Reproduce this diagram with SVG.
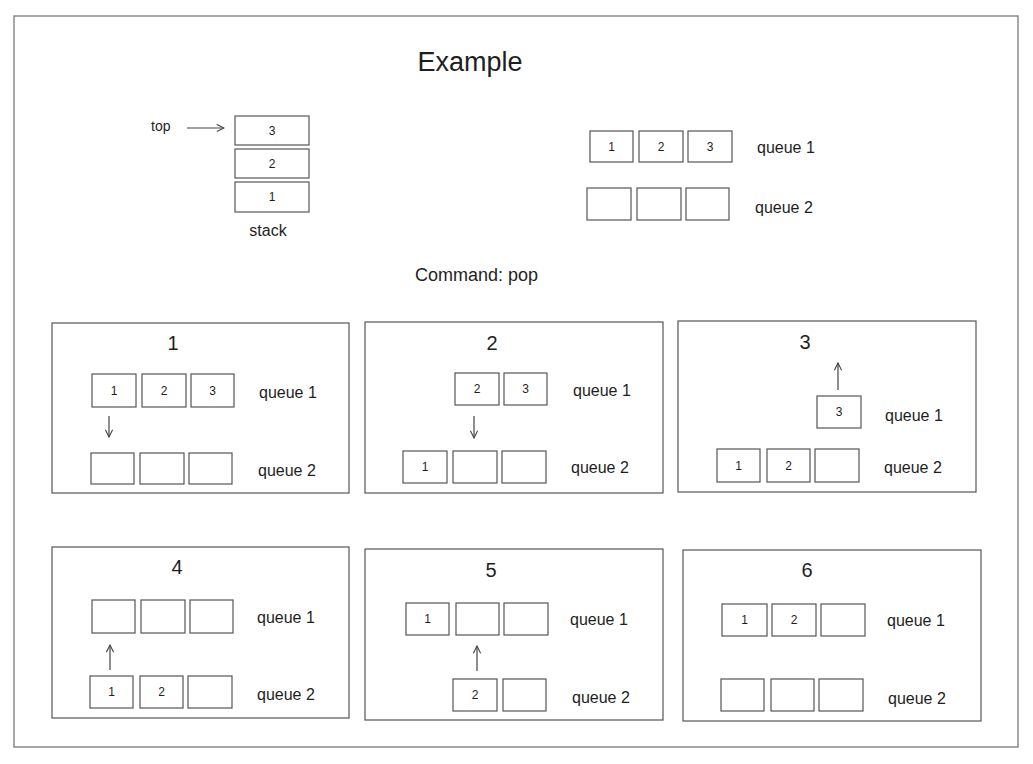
<svg xmlns="http://www.w3.org/2000/svg" width="1033" height="764" viewBox="0 0 1033 764">
<defs>
<style>
.frame{fill:#fff;stroke:#8a8a8a;stroke-width:1.5}
.panel{fill:#fff;stroke:#555;stroke-width:1.2}
.box{fill:#fff;stroke:#555;stroke-width:1.2}
.t{font-family:"Liberation Sans","DejaVu Sans",sans-serif;fill:#1e1e1e}
.num{font-size:12px;text-anchor:middle;dominant-baseline:central}
.lbl{font-size:16px;dominant-baseline:central}
.title{font-size:20px;text-anchor:middle;dominant-baseline:central}
.arr{stroke:#444;stroke-width:1.2;fill:none}
</style>
<marker id="ah" viewBox="0 0 10 10" refX="9" refY="5" markerWidth="9" markerHeight="9" orient="auto" markerUnits="userSpaceOnUse">
<path d="M1,1 L9,5 L1,9" fill="none" stroke="#444" stroke-width="1.2"/>
</marker>
</defs>
<rect width="1033" height="764" fill="#fff"/>
<rect class="frame" x="14" y="16" width="1004" height="731"/>

<text class="t" x="470" y="62" font-size="27" text-anchor="middle" dominant-baseline="central">Example</text>
<text class="t" x="415" y="275" font-size="18" dominant-baseline="central">Command: pop</text>

<g id="stack">
<text class="t" x="151" y="126" font-size="14" dominant-baseline="central">top</text>
<rect class="box" x="235" y="116" width="74" height="29"/><text class="t num" x="272" y="130.5">3</text>
<rect class="box" x="235" y="149" width="74" height="29"/><text class="t num" x="272" y="163.5">2</text>
<rect class="box" x="235" y="182" width="74" height="30"/><text class="t num" x="272" y="197">1</text>
<text class="t" x="268" y="230" font-size="16" text-anchor="middle" dominant-baseline="central">stack</text>
</g>

<g id="queues-top">
<rect class="box" x="590" y="131" width="43" height="31"/><text class="t num" x="611.5" y="146.5">1</text>
<rect class="box" x="639" y="131" width="44" height="31"/><text class="t num" x="661" y="146.5">2</text>
<rect class="box" x="688" y="131" width="44" height="31"/><text class="t num" x="710" y="146.5">3</text>
<text class="t lbl" x="757" y="147">queue 1</text>
<rect class="box" x="587" y="188" width="44" height="32"/>
<rect class="box" x="637" y="188" width="44" height="32"/>
<rect class="box" x="686" y="188" width="43" height="32"/>
<text class="t lbl" x="755" y="207">queue 2</text>
</g>

<g id="panel1">
<rect class="panel" x="52" y="323" width="297" height="170"/>
<text class="t title" x="173" y="343">1</text>
<rect class="box" x="92" y="374" width="44" height="33"/><text class="t num" x="114" y="390.5">1</text>
<rect class="box" x="142" y="374" width="44" height="33"/><text class="t num" x="164" y="390.5">2</text>
<rect class="box" x="191" y="374" width="43" height="33"/><text class="t num" x="212.5" y="390.5">3</text>
<text class="t lbl" x="259" y="392">queue 1</text>
<rect class="box" x="91" y="453" width="43" height="31"/>
<rect class="box" x="140" y="453" width="44" height="31"/>
<rect class="box" x="189" y="453" width="43" height="31"/>
<text class="t lbl" x="258" y="470">queue 2</text>
</g>

<g id="panel2">
<rect class="panel" x="365" y="322" width="298" height="171"/>
<text class="t title" x="492" y="343">2</text>
<rect class="box" x="455" y="373" width="44" height="32"/><text class="t num" x="477" y="389">2</text>
<rect class="box" x="504" y="373" width="43" height="32"/><text class="t num" x="525.5" y="389">3</text>
<text class="t lbl" x="573" y="390">queue 1</text>
<rect class="box" x="403" y="451" width="44" height="32"/><text class="t num" x="425" y="467">1</text>
<rect class="box" x="453" y="451" width="44" height="32"/>
<rect class="box" x="502" y="451" width="44" height="32"/>
<text class="t lbl" x="571" y="467">queue 2</text>
</g>

<g id="panel3">
<rect class="panel" x="678" y="321" width="298" height="171"/>
<text class="t title" x="805" y="342">3</text>
<rect class="box" x="817" y="396" width="44" height="32"/><text class="t num" x="839" y="412">3</text>
<text class="t lbl" x="885" y="415">queue 1</text>
<rect class="box" x="717" y="449" width="43" height="33"/><text class="t num" x="738.5" y="465.5">1</text>
<rect class="box" x="767" y="449" width="43" height="33"/><text class="t num" x="788.5" y="465.5">2</text>
<rect class="box" x="815" y="449" width="44" height="33"/>
<text class="t lbl" x="884" y="467">queue 2</text>
</g>

<g id="panel4">
<rect class="panel" x="52" y="547" width="297" height="171"/>
<text class="t title" x="177" y="567">4</text>
<rect class="box" x="92" y="600" width="43" height="33"/>
<rect class="box" x="141" y="600" width="44" height="33"/>
<rect class="box" x="190" y="600" width="43" height="33"/>
<text class="t lbl" x="257" y="617">queue 1</text>
<rect class="box" x="90" y="676" width="43" height="32"/><text class="t num" x="111.5" y="692">1</text>
<rect class="box" x="140" y="676" width="43" height="32"/><text class="t num" x="161.5" y="692">2</text>
<rect class="box" x="188" y="676" width="44" height="32"/>
<text class="t lbl" x="257" y="694">queue 2</text>
</g>

<g id="panel5">
<rect class="panel" x="365" y="549" width="298" height="171"/>
<text class="t title" x="491" y="570">5</text>
<rect class="box" x="406" y="603" width="43" height="32"/><text class="t num" x="427.5" y="619">1</text>
<rect class="box" x="456" y="603" width="43" height="32"/>
<rect class="box" x="504" y="603" width="44" height="32"/>
<text class="t lbl" x="570" y="619">queue 1</text>
<rect class="box" x="453" y="679" width="44" height="32"/><text class="t num" x="475" y="695">2</text>
<rect class="box" x="503" y="679" width="43" height="32"/>
<text class="t lbl" x="572" y="697">queue 2</text>
</g>

<g id="panel6">
<rect class="panel" x="683" y="550" width="298" height="171"/>
<text class="t title" x="807" y="570">6</text>
<rect class="box" x="722" y="604" width="45" height="32"/><text class="t num" x="744.5" y="620">1</text>
<rect class="box" x="772" y="604" width="44" height="32"/><text class="t num" x="794" y="620">2</text>
<rect class="box" x="821" y="604" width="44" height="32"/>
<text class="t lbl" x="887" y="620">queue 1</text>
<rect class="box" x="721" y="679" width="43" height="32"/>
<rect class="box" x="771" y="679" width="43" height="32"/>
<rect class="box" x="819" y="679" width="44" height="32"/>
<text class="t lbl" x="888" y="698">queue 2</text>
</g>

<g id="connectors">
<line class="arr" x1="187" y1="128" x2="224" y2="128" marker-end="url(#ah)"/>
<line class="arr" x1="109" y1="416" x2="109" y2="437" marker-end="url(#ah)"/>
<line class="arr" x1="474" y1="416" x2="474" y2="438" marker-end="url(#ah)"/>
<line class="arr" x1="838" y1="390" x2="838" y2="363" marker-end="url(#ah)"/>
<line class="arr" x1="110" y1="670" x2="110" y2="645" marker-end="url(#ah)"/>
<line class="arr" x1="477" y1="671" x2="477" y2="646" marker-end="url(#ah)"/>
</g>
</svg>
